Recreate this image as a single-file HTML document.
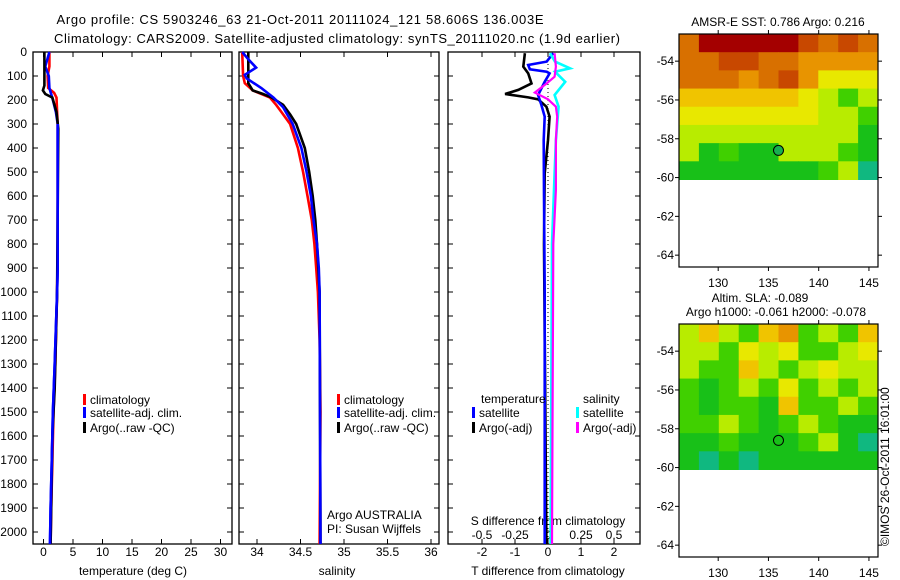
<!DOCTYPE html>
<html><head><meta charset="utf-8"><style>
body{margin:0;background:#fff;}
svg{display:block;font-family:"Liberation Sans",sans-serif;}
</style></head><body>
<svg id="chart" width="900" height="580" viewBox="0 0 900 580">
<text x="300" y="24" font-size="13" text-anchor="middle" textLength="487">Argo profile: CS 5903246_63 21-Oct-2011 20111024_121 58.606S 136.003E</text>
<text x="337" y="43" font-size="13" text-anchor="middle" textLength="566">Climatology: CARS2009. Satellite-adjusted climatology: synTS_20111020.nc (1.9d earlier)</text>
<g id="g"></g>
</svg>
<script>
// ---- data ----
var depthTicks=[0,100,200,300,400,500,600,700,800,900,1000,1100,1200,1300,1400,1500,1600,1700,1800,1900,2000];
var tempTicks=[0,5,10,15,20,25,30];
var salTicks=[34,34.5,35,35.5,36];
var salTickLabels=["34","34.5","35","35.5","36"];
var tdiffTicks=[-2,-1,0,1,2];
var sdiffTickLabels=["-0.5","-0.25","0","0.25","0.5"];
var sdiffTicks=[-0.5,-0.25,0,0.25,0.5];
var tClimDepth=[0,60,100,150,170,190,250,300,800,1000,1300,1500,1700,1900,2050];
var tClimVal=[1.0,1.0,0.7,0.8,1.8,2.2,2.3,2.4,2.4,2.3,2.0,1.7,1.5,1.3,1.2];
var tSatDepth=[0,60,100,150,200,250,300,900,1000,1300,1500,1700,1900,2050];
var tSatVal=[1.0,0.3,0.9,1.0,1.6,2.1,2.4,2.4,2.3,1.9,1.6,1.4,1.2,1.1];
var tArgoDepth=[0,140,160,175,190,250,320,1000,1400,1600,1900,2050];
var tArgoVal=[0.15,0.15,-0.1,0.3,1.5,2.2,2.5,2.3,1.9,1.5,1.3,1.2];
var sClimDepth=[0,100,130,160,190,220,250,300,400,500,600,700,800,900,1000,1200,1500,2050];
var sClimVal=[33.83,33.84,33.86,33.95,34.15,34.22,34.28,34.38,34.47,34.53,34.58,34.63,34.66,34.68,34.70,34.72,34.73,34.72];
var sSatDepth=[0,30,65,95,110,150,190,230,300,400,500,600,700,800,900,1000,2050];
var sSatVal=[33.83,33.90,33.99,33.86,33.88,34.05,34.19,34.30,34.41,34.51,34.57,34.62,34.65,34.69,34.71,34.72,34.73];
var sArgoDepth=[0,130,160,175,190,220,260,300,400,500,600,700,800,1000,2050];
var sArgoVal=[33.90,33.90,33.95,34.07,34.17,34.30,34.38,34.45,34.55,34.60,34.64,34.67,34.69,34.72,34.73];
var dTSatDepth=[5,40,54,72,82,89,124,179,221,269,367,600,1000,2050];
var dTSatVal=[0.16,-0.04,-0.6,-0.55,-0.04,0.05,-0.1,-0.3,-0.2,-0.1,-0.13,-0.12,-0.1,-0.1];
var dTArgoDepth=[5,61,89,131,158,175,189,197,228,269,367,506,800,2050];
var dTArgoVal=[-0.7,-0.75,-0.6,-0.5,-0.9,-1.3,-0.6,-0.3,-0.05,0.05,0,-0.1,-0.12,-0.05];
var dSSatDepth=[5,40,68,82,124,179,228,367,506,800,2050];
var dSSatVal=[0.015,0.053,0.167,0.053,0.13,0.05,0.08,0.06,0.05,0.03,0.02];
var dSArgoDepth=[5,61,103,131,169,197,228,269,367,575,800,2050];
var dSArgoVal=[0.05,0.06,0.05,-0.01,-0.1,0,0.06,0.07,0.06,0.06,0.04,0.03];
var latTicks=[-54,-56,-58,-60,-62,-64];
var lonTicks=[130,135,140,145];
var sstGrid=[
[7,9,9,9,9,9,8,7,8,7],
[7,7,8,8,7,7,6,6,6,6],
[7,7,7,6,7,8,6,4,4,4],
[5,5,5,5,5,5,4,3,2,3],
[4,4,4,4,4,4,4,3,3,2],
[3,3,3,3,3,3,3,3,3,1],
[3,1,2,1,1,3,3,3,2,1],
[1,1,1,1,1,1,1,2,3,0]];
var slaGrid=[
[3,5,3,2,5,6,2,3,2,5],
[3,3,2,4,3,4,2,2,3,4],
[3,2,2,5,3,2,3,4,3,3],
[2,1,2,3,2,4,2,3,2,3],
[2,1,2,2,1,5,2,2,3,2],
[2,2,3,2,1,2,3,2,1,1],
[1,1,2,1,1,1,2,3,1,0],
[1,0,1,0,1,1,1,1,1,1]];
var argoLon=136.0, argoLat=-58.6;
var palette=["#10b880","#18c018","#40d000","#b8ec00","#e8e800","#f0c400","#e89400","#d87000","#c84800","#a40000"];

// ---- helpers ----
var NS="http://www.w3.org/2000/svg", G=document.getElementById('g');
function mk(t,a,p){var e=document.createElementNS(NS,t);for(var k in a)e.setAttribute(k,a[k]);(p||G).appendChild(e);return e;}
var Y0=52,YK=0.24; function yD(d){return Y0+d*YK;}
function xT(v){return 43.5+v*5.9;}
function xS(v){return 257+(v-34)*87;}
function xDT(v){return 548+v*33;}
function xDS(v){return 548+v*132;}
var BOT=544;
function box(x1,x2,name){
 var r=mk('rect',{x:x1,y:Y0,width:x2-x1,height:BOT-Y0,fill:'none',stroke:'#000','stroke-width':1.3});
 
 
 depthTicks.forEach(function(d){mk('line',{x1:x1,x2:x1+5,y1:yD(d),y2:yD(d),stroke:'#000'});mk('line',{x1:x2-5,x2:x2,y1:yD(d),y2:yD(d),stroke:'#000'});});
}
function xticks(vals,labs,fx,ly,name){
 vals.forEach(function(v,i){var x=fx(v);mk('line',{x1:x,x2:x,y1:BOT,y2:BOT-5,stroke:'#000'});mk('line',{x1:x,x2:x,y1:Y0,y2:Y0+5,stroke:'#000'});
  var t=mk('text',{x:x,y:ly,'font-size':12,'text-anchor':'middle'});t.textContent=labs[i];
  
  });
}
function line(ds,vs,fx,col,name,w){
 var p=ds.map(function(d,i){return fx(vs[i]).toFixed(1)+','+yD(d).toFixed(1);}).join(' ');
 var e=mk('polyline',{points:p,fill:'none',stroke:col,'stroke-width':w||2.6,'stroke-linejoin':'miter'});
 
 
}
function txt(x,y,s,name,anchor,size){var t=mk('text',{x:x,y:y,'font-size':size||12,'text-anchor':anchor||'start'});t.textContent=s;
 
 return t;}
function legend(x,y,col,s,name){mk('rect',{x:x,y:y-10,width:3,height:11,fill:col});txt(x+7,y,s,name);}

// depth labels
depthTicks.forEach(function(d){var t=txt(27,yD(d)+4,String(d),'depth-tick-label','end');});

// panel 1 temperature
box(33,232,'temperature-panel');
xticks(tempTicks,tempTicks.map(String),xT,556,'temperature-tick-label');
txt(133,575,'temperature (deg C)','temperature-axis-title','middle');
line(tClimDepth,tClimVal,xT,'#ff0000','temp-climatology-line');
line(tSatDepth,tSatVal,xT,'#0000ff','temp-satellite-line');
line(tArgoDepth,tArgoVal,xT,'#000000','temp-argo-line');
line(tSatDepth.slice(6),tSatVal.slice(6),xT,'#0000ff','temp-satellite-line-top');
legend(83,404,'#ff0000','climatology','legend-climatology');
legend(83,417,'#0000ff','satellite-adj. clim.','legend-satellite');
legend(83,432,'#000000','Argo(..raw -QC)','legend-argo');

// panel 2 salinity
box(239,439,'salinity-panel');
xticks(salTicks,salTickLabels,xS,556,'salinity-tick-label');
txt(337,575,'salinity','salinity-axis-title','middle');
line(sClimDepth,sClimVal,xS,'#ff0000','sal-climatology-line');
line(sArgoDepth,sArgoVal,xS,'#000000','sal-argo-line');
line(sSatDepth,sSatVal,xS,'#0000ff','sal-satellite-line');
legend(337,404,'#ff0000','climatology','legend-climatology');
legend(337,417,'#0000ff','satellite-adj. clim.','legend-satellite');
legend(337,432,'#000000','Argo(..raw -QC)','legend-argo');
txt(327,519,'Argo AUSTRALIA','argo-australia-label');
txt(327,533,'PI: Susan Wijffels','pi-label');

// panel 3 differences
box(448,640,'difference-panel');
xticks(tdiffTicks,tdiffTicks.map(String),xDT,556,'tdiff-tick-label');
sdiffTicks.forEach(function(v,i){txt(xDS(v),539,sdiffTickLabels[i],'sdiff-tick-label','middle');});
txt(548,575,'T difference from climatology','tdiff-axis-title','middle');
txt(548,525,'S difference from climatology','sdiff-axis-title','middle');
mk('line',{x1:xDT(0),x2:xDT(0),y1:Y0,y2:BOT,stroke:'#000','stroke-dasharray':'1,3'});
line(dTArgoDepth,dTArgoVal,xDT,'#000000','tdiff-argo-line');
line(dTSatDepth,dTSatVal,xDT,'#0000ff','tdiff-satellite-line');
line(dSSatDepth,dSSatVal,xDS,'#00ffff','sdiff-satellite-line');
line(dSArgoDepth,dSArgoVal,xDS,'#ff00ff','sdiff-argo-line',2.2);
txt(481,403,'temperature','legend-temperature-heading');
txt(583,403,'salinity','legend-salinity-heading');
legend(472,417,'#0000ff','satellite','legend-t-satellite');
legend(472,432,'#000000','Argo(-adj)','legend-t-argo');
legend(576,417,'#00ffff','satellite','legend-s-satellite');
legend(576,432,'#ff00ff','Argo(-adj)','legend-s-argo');

// maps
function map(top,grid,name,filled){
 var L=679,R=878,H=233,lon0=126.1,lonK=10.05,lat0=-52.6,latK=19.4;
 function mx(l){return L+(l-lon0)*lonK;} function my(a){return top+(lat0-a)*latK;}
 var gl=mk('g',{});  
 var rows=grid.length, cols=grid[0].length, latS=-60.1;
 var cw=(R-L)/cols, ch=(my(latS)-top)/rows;
 grid.forEach(function(row,i){row.forEach(function(v,j){
  var c=mk('rect',{x:L+j*cw,y:top+i*ch,width:cw+0.5,height:ch+0.5,fill:palette[v]},gl);
  
  });});
 mk('rect',{x:L,y:top,width:R-L,height:H,fill:'none',stroke:'#000','stroke-width':1.2});
 latTicks.forEach(function(a){var y=my(a);mk('line',{x1:L-4,x2:L,y1:y,y2:y,stroke:'#000'});mk('line',{x1:R,x2:R+4,y1:y,y2:y,stroke:'#000'});txt(L-5,y+4,String(a),'lat-tick-label','end');});
 lonTicks.forEach(function(l){var x=mx(l);mk('line',{x1:x,x2:x,y1:top+H,y2:top+H+4,stroke:'#000'});mk('line',{x1:x,x2:x,y1:top-4,y2:top,stroke:'#000'});txt(x,top+H+20,String(l),'lon-tick-label','middle');});
 var c=mk('circle',{cx:mx(argoLon),cy:my(argoLat),r:5,fill:filled?'#18b050':'none',stroke:'#000','stroke-width':1});
 
 
}
map(34,sstGrid,'sst-map',true);
map(324,slaGrid,'sla-map',false);
txt(778,26,'AMSR-E SST: 0.786 Argo: 0.216','sst-map-title','middle');
txt(760,302,'Altim. SLA: -0.089','sla-map-title','middle');
txt(776,316,'Argo h1000: -0.061 h2000: -0.078','sla-map-subtitle','middle');
var im=txt(0,0,'©IMOS 26-Oct-2011 16:01:00','imos-credit','start');
im.setAttribute('transform','translate(889,546) rotate(-90)');
</script>
</body></html>
